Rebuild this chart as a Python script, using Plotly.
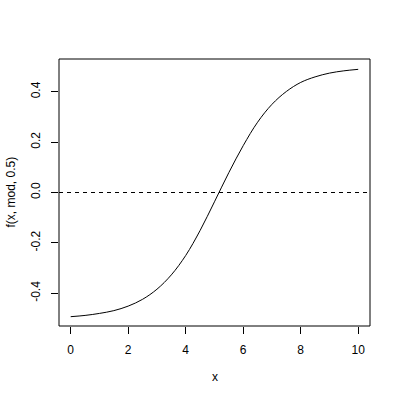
import plotly.graph_objects as go

x_vals = [0, 0.5, 1, 1.5, 2, 2.5, 3, 3.5, 4, 4.5, 5, 5.5, 6, 6.5, 7, 7.5, 8, 8.5, 9, 9.5, 10]
f_vals = [-0.493, -0.488, -0.480, -0.469, -0.451, -0.424, -0.384, -0.327, -0.250, -0.151,
          -0.037, 0.079, 0.186, 0.279, 0.350, 0.401, 0.437, 0.459, 0.474, 0.483, 0.489]
x_ticks = [0, 2, 4, 6, 8, 10]
y_ticks = [-0.4, -0.2, 0.0, 0.2, 0.4]
y_tick_labels = ["-0.4", "-0.2", "0.0", "0.2", "0.4"]
hline_y = 0.0

font = dict(family="Liberation Sans, Arial, Helvetica, sans-serif", size=12, color="black")

fig = go.Figure()
fig.add_trace(go.Scatter(x=x_vals, y=f_vals, mode="lines",
                         line=dict(color="black", width=1, shape="spline", smoothing=1.0),
                         showlegend=False, hoverinfo="skip"))
fig.add_trace(go.Scatter(x=[-0.407, 10.41], y=[hline_y, hline_y], mode="lines",
                         line=dict(color="black", width=1, dash="4px,4px"), showlegend=False, hoverinfo="skip"))

fig.update_layout(
    width=400, height=400,
    margin=dict(l=59, r=30, t=59, b=74),
    paper_bgcolor="white", plot_bgcolor="white",
    font=font,
    xaxis=dict(range=[-0.407, 10.41], tickvals=x_ticks, ticks="outside", ticklen=7, tickwidth=1,
               tickcolor="black", showgrid=False, zeroline=False, showline=False, tickfont=font,
               ticklabelstandoff=6, automargin=False),
    yaxis=dict(range=[-0.530, 0.530], tickvals=y_ticks, ticktext=y_tick_labels, ticks="outside", ticklen=7,
               tickwidth=1, tickcolor="black", showgrid=False, zeroline=False, showline=False,
               tickangle=-90, tickfont=font, ticklabelstandoff=6, automargin=False),
    shapes=[dict(type="rect", xref="paper", yref="paper", x0=0, x1=1, y0=0, y1=1,
                 line=dict(color="black", width=1))],
    annotations=[
        dict(text="x", xref="paper", yref="paper", x=0.5, y=-51/267, yanchor="middle", xanchor="center",
             showarrow=False, font=font),
        dict(text="f(x, mod, 0.5)", xref="paper", yref="paper", x=-49/311, y=0.5, textangle=-90,
             xanchor="center", yanchor="middle", showarrow=False, font=font),
    ],
)

fig.write_html("out.html", config={"displayModeBar": False, "staticPlot": True},
               post_script="document.body.style.margin='0px';")
